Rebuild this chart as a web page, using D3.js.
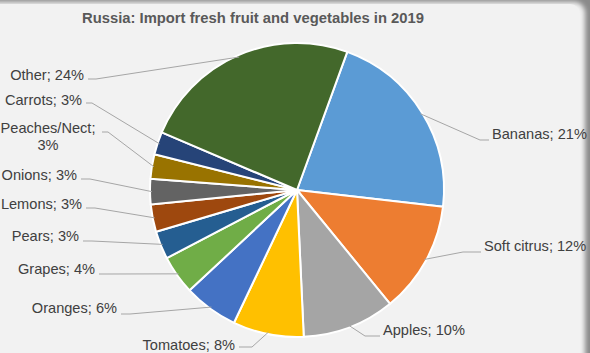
<!DOCTYPE html>
<html>
<head>
<meta charset="utf-8">
<script src="https://cdn.jsdelivr.net/npm/d3@7"></script>
<style>
  html, body { margin: 0; padding: 0; background: #f2f2f2; }
  svg { display: block; font-family: "Liberation Sans", Arial, sans-serif; }
</style>
</head>
<body>
<svg width="590" height="353"></svg>
<script>
const width = 590;
const height = 353;

// data (clockwise from the Bananas slice)
const categories = ["Bananas", "Soft citrus", "Apples", "Tomatoes", "Oranges", "Grapes",
  "Pears", "Lemons", "Onions", "Peaches/Nect", "Carrots", "Other"];
const shares = [21.3, 12.3, 10.2, 7.8, 6.0, 4.3, 3.1, 3.0, 2.8, 2.7, 2.5, 24.2];
const shareLabels = ["21%", "12%", "10%", "8%", "6%", "4%", "3%", "3%", "3%", "3%", "3%", "24%"];
const sliceColors = ["#5b9bd5", "#ed7d31", "#a5a5a5", "#ffc000", "#4472c4", "#70ad47",
  "#255e91", "#9e480e", "#636363", "#997300", "#264478", "#43682b"];

// label placement (Excel puts these by hand-ish rules)
// [textX, textCenterY, anchor, lineX, lineY, elbowX]
const labelLayout = [
  [492, 134, "start", 489, 140, 480],
  [484, 246, "start", 481, 252, 463],
  [383, 330, "start", 380, 336, 365],
  [235, 345, "end", 239, 347, 252],
  [117, 308, "end", 121, 314, 130],
  [95, 269, "end", 99, 274, 108],
  [79, 236, "end", 83, 241, 92],
  [82, 204, "end", 86, 208, 95],
  [77, 175, "end", 81, 179, 90],
  [48, 128, "middle", 102, 132, 108],
  [82, 100, "end", 86, 103, 92],
  [84, 75, "end", 88, 79, 96]
];

const svg = d3.select("svg");

// card with soft shadow on the edges
const defs = svg.append("defs");
defs.append("filter")
  .attr("id", "soft")
  .attr("x", "-10%").attr("y", "-10%")
  .attr("width", "120%").attr("height", "120%")
  .append("feGaussianBlur")
  .attr("stdDeviation", 2.5);

svg.append("rect")
  .attr("width", width).attr("height", height)
  .attr("fill", "#8a8a8a");

svg.append("rect")
  .attr("x", -30).attr("y", 2)
  .attr("width", 615).attr("height", 400)
  .attr("rx", 11)
  .attr("fill", "#f2f2f2")
  .attr("filter", "url(#soft)");

svg.append("rect")
  .attr("x", -30).attr("y", 4)
  .attr("width", 610).attr("height", 395)
  .attr("rx", 10)
  .attr("fill", "#f2f2f2");

// title
svg.append("text")
  .attr("x", 253)
  .attr("y", 23)
  .attr("text-anchor", "middle")
  .attr("font-size", 14.8)
  .attr("font-weight", "bold")
  .attr("fill", "#595959")
  .text("Russia: Import fresh fruit and vegetables in 2019");

const cx = 297, cy = 190, radius = 147;
const startAngle = 20 * Math.PI / 180;

const pie = d3.pie()
  .sort(null)
  .startAngle(startAngle)
  .endAngle(startAngle + 2 * Math.PI);

const arcs = pie(shares);

const arc = d3.arc().innerRadius(0).outerRadius(radius);

const pieG = svg.append("g").attr("transform", `translate(${cx}, ${cy})`);

pieG.selectAll("path.slice")
  .data(arcs)
  .enter()
  .append("path")
  .attr("class", "slice")
  .attr("d", arc)
  .attr("fill", (d, i) => sliceColors[i])
  .attr("stroke", "#ffffff")
  .attr("stroke-width", 2)
  .attr("stroke-linejoin", "round");

// leader lines
const edgePoint = (d) => {
  const a = (d.startAngle + d.endAngle) / 2;
  const rr = radius - 2;
  return [cx + rr * Math.sin(a), cy - rr * Math.cos(a)];
};

svg.append("g")
  .selectAll("path")
  .data(arcs)
  .enter()
  .append("path")
  .attr("d", (d, i) => {
    const p = edgePoint(d);
    const L = labelLayout[i];
    return `M${p[0]},${p[1]}L${L[5]},${L[4]}L${L[3]},${L[4]}`;
  })
  .attr("fill", "none")
  .attr("stroke", "#a6a6a6")
  .attr("stroke-width", 1);

// labels
const labelG = svg.append("g")
  .attr("font-size", 14.6)
  .attr("fill", "#404040");

categories.forEach((name, i) => {
  const L = labelLayout[i];
  const t = labelG.append("text")
    .attr("text-anchor", L[2]);
  if (name === "Peaches/Nect") {
    t.append("tspan").attr("x", L[0]).attr("y", L[1] + 5).text(name + ";");
    t.append("tspan").attr("x", L[0]).attr("y", L[1] + 22).text(shareLabels[i]);
  } else {
    t.attr("x", L[0]).attr("y", L[1] + 5).text(`${name}; ${shareLabels[i]}`);
  }
});
</script>
</body>
</html>
